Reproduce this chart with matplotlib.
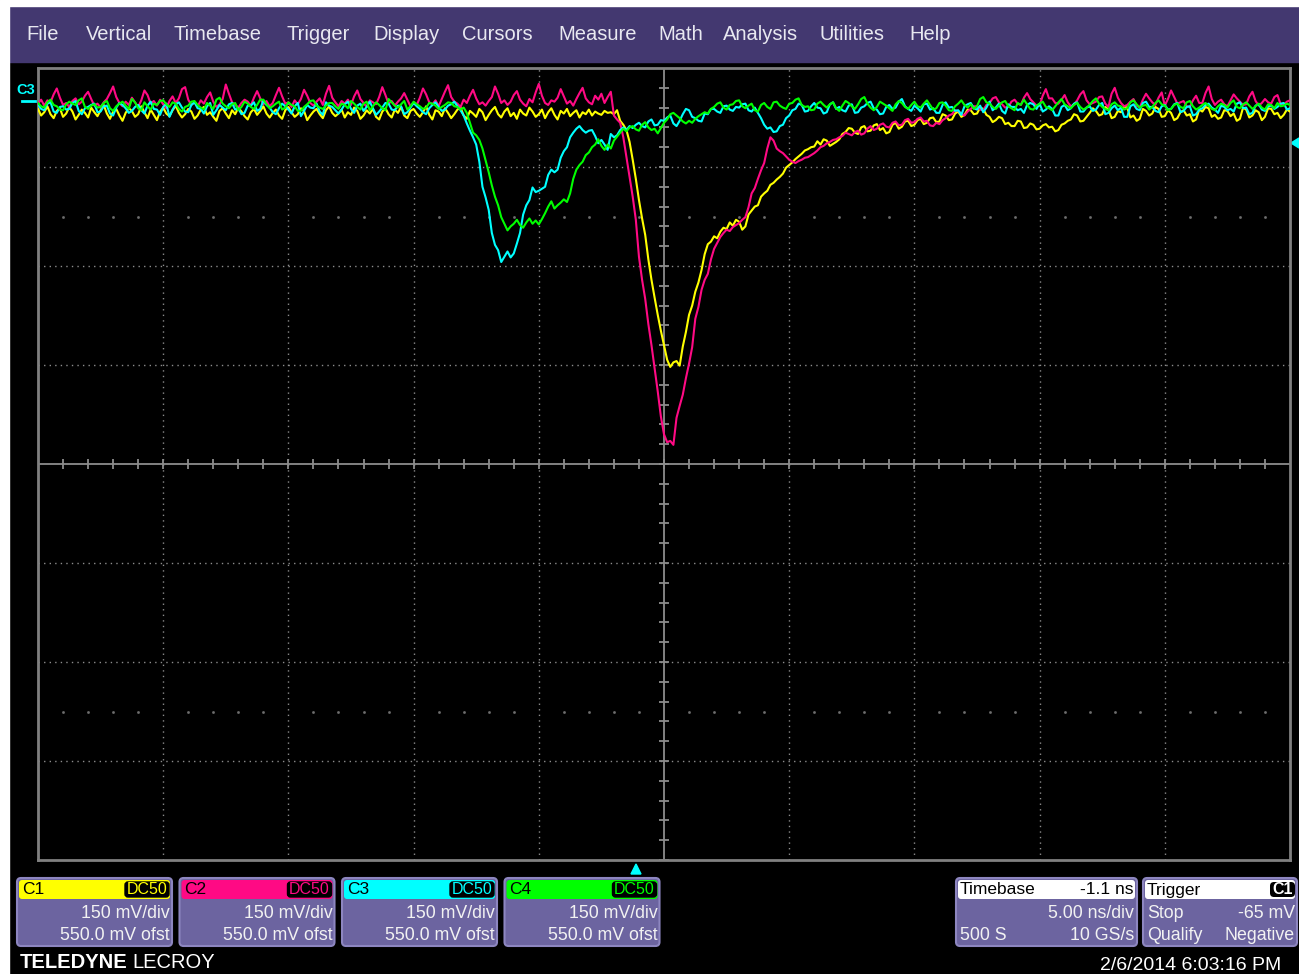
import numpy as np
import matplotlib.pyplot as plt
from matplotlib.patches import FancyBboxPatch, Rectangle, Polygon

plt.rcParams['font.family'] = ['Liberation Sans', 'DejaVu Sans']

# acquisition: 5 ns/div, trigger delay -1.1 ns, one point kept every 0.125 ns
T_START = -23.9
T_STEP = 0.125
DELAY = 1.1
NS_DIV = 5.0
MV_DIV = 150.0
OFFSET_MV = 550.0

# C1 (yellow) in mV
c1_mv = [
    -12, -22, -17, -8, -20, -26, -15, -11, -24, -19, -9, -16, -28, -21, -13, -18, -25, -10, -17, -23,
    -14, -6, -19, -27, -16, -12, -22, -30, -18, -11, -15, -24, -20, -8, -17, -26, -13, -21, -29, -16,
    -10, -19, -23, -14, -7, -18, -25, -20, -12, -16, -27, -22, -13, -9, -21, -17, -24, -30, -15, -11,
    -19, -26, -14, -20, -10, -16, -23, -28, -17, -12, -21, -15, -8, -19, -25, -18, -13, -22, -27, -14,
    -9, -17, -24, -20, -11, -15, -29, -22, -16, -12, -20, -26, -14, -8, -18, -23, -19, -13, -25, -17,
    -21, -10, -15, -27, -22, -14, -19, -12, -24, -28, -16, -11, -20, -25, -13, -18, -9, -22, -26, -15,
    -12, -19, -24, -17, -8, -21, -28, -14, -16, -23, -11, -18, -26, -20, -13, -10, -22, -27, -15, -19,
    -24, -12, -17, -29, -21, -14, -9, -20, -25, -16, -11, -23, -18, -27, -13, -19, -22, -10, -16, -24,
    -20, -13, -26, -17, -11, -21, -28, -15, -19, -12, -23, -18, -14, -25, -17, -20, -13, -22, -16, -19,
    -21, -15, -18, -17,
    -20, -14, -30, -36, -44, -62, -89, -118, -150, -178,
    -203, -240, -271, -298, -324, -348, -370, -392, -403, -396,
    -394, -401, -372, -350, -324, -310, -289, -275, -256, -232,
    -217, -213, -205, -208, -198, -192, -194, -184, -189, -180,
    -183, -195, -190, -172, -166, -160, -158, -145, -140, -136,
    -127, -124, -119, -115, -110, -101, -97, -93, -88, -84,
    -80, -75, -73, -70, -69, -61, -66, -58, -60, -68,
    -65, -62, -58, -50, -47, -41,
    -42, -48, -50, -40, -38, -46, -45, -37, -35, -44, -41, -49, -47, -36, -33, -42, -39, -31, -30, -38,
    -36, -29, -27, -35, -33, -26, -25, -32, -31, -20, -22, -29, -28, -19, -16, -24, -21, -13, -14, -20,
    -19, -10, -12, -21, -24, -32, -29, -24, -26, -35, -33, -38, -38, -30, -31, -41, -40, -34, -36, -43,
    -42, -37, -35, -40, -39, -46, -44, -36, -34, -30, -28, -20, -22, -31, -30, -24, -18, -11, -15, -22,
    -20, -9, -13, -26, -24, -15, -17, -8, -10, -25, -22, -30, -27, -12, -15, -22, -19, -9, -12, -24,
    -23, -14, -18, -29, -26, -17, -14, -22, -20, -31, -28, -13, -16, -9, -11, -24, -21, -27, -25, -14,
    -15, -23, -19, -30, -27, -10, -13, -25, -22, -14, -17, -29, -24, -11, -12, -20, -18, -26, -21, -13, -16,
]

# C2 (magenta) in mV
c2_mv = [
    -4, 2, -7, 1, -2, 10, 19, 5, -6, -3, -9, 0, 4, -5, -1, 8, 14, 3, -7, -4,
    -10, -2, 3, 12, 22, 6, -3, -8, -1, -6, 5, -2, -9, 1, 16, 9, -4, 0, -7, 2,
    -5, -11, 0, 7, -3, 4, 18, 21, 2, -6, -2, -8, 1, -4, 6, 13, -1, -9, -5, 3,
    25, 11, -2, -6, -10, -3, 2, -1, -7, 5, 15, 4, -5, 0, -8, -3, 9, 20, 7, -4,
    -2, -9, 1, -5, 3, 17, 8, -3, -7, -1, 4, -6, 11, 23, 5, -2, -8, 0, -4, 2,
    -6, 7, 16, 3, -3, -9, 1, -2, -5, 6, 21, 9, -4, 0, -7, -1, 4, 12, 2, -8,
    -3, -6, 5, 19, 10, -2, -5, 1, -8, 3, 14, 24, 6, -1, -4, -9, 2, -3, 8, 17,
    4, -5, -2, -7, 0, 6, 22, 11, -3, 1, -6, -1, 9, 15, 2, -4, -8, 3, -2, 13,
    26, 8, -3, -6, 1, -1, 5, 18, 7, -4, 0, -7, 3, 12, 20, 4, -2, -5, 8, 2,
    11, -3, 6, 14,
    -22, -28, -33, -55, -85, -115, -145, -180, -236, -271,
    -300, -338, -370, -405, -440, -478, -505, -517, -515, -521,
    -480, -462, -445, -420, -398, -373, -330, -312, -286, -271,
    -262, -240, -224, -215, -206, -200, -195, -197, -191, -188,
    -185, -180, -176, -161, -140, -132, -118, -105, -94, -72,
    -55, -60, -72, -76, -79, -84, -89, -92, -94, -91,
    -89, -86, -85, -82, -79, -75, -70, -68, -64, -62,
    -59, -58, -55, -53, -48, -50,
    -52, -47, -45, -51, -49, -42, -38, -44, -42, -36, -34, -39, -40, -33, -31, -37, -36, -29, -27, -33,
    -32, -27, -25, -31, -30, -37, -38, -33, -35, -29, -26, -22, -20, -14, -15, -19, -22, -16, -12, -8,
    -8, -13, -14, -6, -3, 4, 6, -2, -5, -10, -9, -1, 2, -4, -6, 5, 12, 3, -2, -7,
    -7, 8, 18, 4, 4, -3, -4, 2, 9, -2, -8, -5, 1, 10, 15, 1, -5, -3, -1, 6,
    7, -4, -9, 11, 20, 5, -3, -8, -6, -1, 3, -7, -10, 2, 11, 4, -2, -6, 5, 13,
    -7, 3, 16, 6, -4, -2, 0, -8, -9, 1, 8, -3, -3, 12, 22, 3, -6, -1, 2, -5,
    -8, 1, 10, 4, -1, -6, -5, 7, 14, 0, -7, -3, 3, -2, -4, 6, 9, -5, -6, -1, 1,
]

# C3 (cyan) in mV
c3_mv = [
    -5, -12, -14, -4, -2, -16, -18, -9, -8, -13, -12, -3, 0, -15, -20, -11, -9, -6, -4, -17,
    -16, -8, -7, -19, -22, -10, -3, -6, -11, -18, -15, -9, -6, -14, -19, -7, -1, -12, -13, -21,
    -9, -4, -24, -13, -5, -2, -10, -16, -17, -6, -2, -11, -12, -19, -8, -3, -21, -14, -6, -10,
    -14, -5, -3, -13, -11, -20, -18, -7, -7, -2, -15, -12, 1, -6, -10, -17, -20, -11, -4, -8,
    -13, -19, -8, -3, -23, -15, -6, -10, -11, -4, -16, -21, -2, -7, -9, -14, -19, -13, -5, -1,
    -12, -18, -7, -4, -15, -9, -1, -11, -21, -16, -10, -3, -4, -13, -14, -7, -8, -20, -17, -10,
    -3, -8, -12, -17, -20, -11, -6, -2, -9, -15, -13, -7, -5, -1,
    -8, -14, -22, -34, -45, -55, -66, -92, -130, -146,
    -165, -200, -218, -226, -244, -236, -228, -237, -231, -216,
    -200, -172, -158, -150, -131, -138, -136, -133, -130, -112,
    -104, -108, -104, -86, -76, -70, -55, -48, -42, -38,
    -44, -48, -45, -44, -53, -64, -59, -66, -74, -50,
    -55, -52, -44, -40, -44, -38, -41, -36,
    -33, -38, -40, -31, -28, -37, -36, -29, -30, -25, -22, -34, -38, -30, -20, -12, -14, -24, -26, -30,
    -31, -19, -20, -12, -12, -16, -18, -8, -7, -13, -15, -9, -10, -5, -4, -14, -16, -10, -18, -26,
    -36, -42, -40, -47, -46, -38, -36, -26, -22, -14,
    -12, -4, -6, -16, -15, -8, -3, -10, -11, -19, -17, -5, -2, -12, -9, -14, -16, -7, -5, -18,
    -17, -10, -8, -3, -1, -11, -13, -20, -19, -9, -6, -12, -10, -1, 3, -8, -12, -15, -7, -11,
    -16, -5, -4, -13, -11, -18, -18, -6, -2, -10, -9, -15, -14, -21, -8, -5, -3, -11, -13, -7,
    -17, -10, -1, -14, -10, -4, -15, -19, -5, -9, -9, -14, -12, -18, -6, -3, -5, -12, -4, -16,
    -13, -8, -12, -22, -22, -9, -6, -14, -11, -4, -2, -16, -16, -10, -8, -15, -13, -6, -3, -20,
    -18, -11, -7, -14, -10, -24, -24, -8, -5, -12, -14, -3, -1, -9, -9, -15, -17, -8, -6, -13,
    -12, -5, -3, -17, -15, -9, -8, -22, -20, -13, -11, -6, -4, -10, -13, -18, -7, -9, -14, -12,
    -16, -4, -2, -11, -10, -20, -18, -7, -5, -13, -15, -8, -7, -12, -9, -4, -3, -13, -11,
]

# C4 (green) in mV
c4_mv = [
    -3, -8, -10, -2, 2, -6, -8, -13, -14, -5, -1, -4, -6, 1, 4, -9, -12, -7, -5, -10,
    -9, -3, 0, -11, -15, -8, -4, -1, -7, -12, 3, -2, -11, -14, -2, -8, -13, -4, -6, 0,
    1, -5, -9, -2, -4, -12, -16, -9, -7, -1, 0, -6, -10, -13, -3, -7, -12, 2, 5, -4,
    -8, -11, -5, -3, -14, -9, -1, -4, -9, -12, -6, 2, 2, -5, -11, -8, -4, -1, -13, -10,
    -2, -6, -8, -15, -15, -9, -5, 0, 1, -7, -10, -12, -7, -3, -3, -8, -12, -4, -6, -11,
    0, -4, -9, -13, -4, -1, -14, -8, -2, -6, -11, -14, 3, -2, -7, -10, -5, 0, -13, -8,
    -1, -5, -8, -12, -10, -3, -4, -7, -12, -9, -6, -2, -3, -8, -9, -13,
    -10, -18, -33, -48, -52, -59, -72, -90, -108, -128,
    -145, -158, -176, -186, -196, -190, -186, -180, -188, -192,
    -184, -178, -186, -181, -187, -179, -170, -160, -152, -163,
    -158, -154, -149, -153, -140, -118, -104, -97, -92, -82,
    -78, -70, -66, -58, -68, -74, -66, -72, -60, -54,
    -48, -42, -46, -40, -38, -43, -45, -36, -32, -40,
    -44, -42, -49, -41, -33, -28, -20, -18, -22, -26,
    -31, -34, -30, -33, -27, -23, -20, -17, -19, -12,
    -9, -4, -2, -10, -13, -6, -5, 0, 1, -8, -11, -7, -4, -14, -16, -6, -3, -9, -12, -2,
    -1, -7, -10, -12, -4, -3, 2, 4, -6, -9, -8, -14, -13, -4, -1, -6, -10, -5, -2, -11,
    -15, -7, 0, -3, -8, -12, -5, 3, 6, -4, -10, -14, -9, -1, -4, -7, -11, -15, -5, 0,
    -3, -9, -12, -6, -1, -8, -10, -4, 1, -6, -13, -11, -3, -2, -7, -14, -15, -8, -4, 1,
    -6, -10, -5, -12, -8, 3, 6, -2, -4, -9, -12, -7, -2, 0, -8, -11, -14, -3, -6, 2,
    -5, -12, -13, -7, -4, -1, -9, -11, -14, -8, -2, 3, -5, -8, -11, -6, -3, -9, -13, -10,
    -6, 0, 4, -4, -9, -12, -14, -5, -2, -7, -8, -13, -11, -2, 1, -5, -10, -7, -6, -13,
    -9, -3, 1, -5, -7, -14, -12, -6, -4, -9, -11, -2, 0, -8, -13, -10, -6, -3, -7, -12,
    -14, -8, -4, -6, -10, -3, 1, -9, -11, -5, -2, -7, -12, -8, -4, -10, -13, -5, -6, -11,
    -3, -8, -7, -4, -6,
]

channels = ['C1', 'C2', 'C3', 'C4']
channel_data = [c1_mv, c2_mv, c3_mv, c4_mv]
channel_colors = ['#ffff00', '#ff0a84', '#00ffff', '#00ff00']
volts_div = ['150 mV/div'] * 4
offsets = ['550.0 mV ofst'] * 4

menu_items = ['File', 'Vertical', 'Timebase', 'Trigger', 'Display', 'Cursors',
              'Measure', 'Math', 'Analysis', 'Utilities', 'Help']

W, H = 1299, 974
GX0, GX1, GY0, GY1 = 38, 1290, 68, 860

fig = plt.figure(figsize=(W / 100, H / 100), dpi=100, facecolor='black')

# screen furniture drawn in pixel coordinates
ui = fig.add_axes([0, 0, 1, 1])
ui.set_xlim(0, W)
ui.set_ylim(H, 0)
ui.axis('off')
ui.set_facecolor('black')

ui.add_patch(Rectangle((0, 0), W, 6, color='white', zorder=5))
ui.add_patch(Rectangle((0, 0), 9, H, color='white', zorder=5))
ui.add_patch(Rectangle((9, 6), W - 9, 56, color='#433870', zorder=1))

menu_x = [26, 86, 174, 287, 373, 462, 558, 658, 723, 820, 909]
for name, x in zip(menu_items, menu_x):
    ui.text(x, 35, name, color='#e8e8f0', fontsize=14.5, va='center', ha='left')

# channel descriptor boxes
box_w = 155
for k, (name, col) in enumerate(zip(channels, channel_colors)):
    x0 = 17 + 162.5 * k
    ui.add_patch(FancyBboxPatch((x0, 878), box_w, 68,
                                boxstyle='round,pad=0,rounding_size=4',
                                facecolor='#6c64a0', edgecolor='#8d86c0', lw=1.5))
    ui.add_patch(FancyBboxPatch((x0 + 2, 880), box_w - 4, 19,
                                boxstyle='round,pad=0,rounding_size=3',
                                facecolor=col, edgecolor='none'))
    ui.text(x0 + 5, 890, name, color='black', fontsize=12.5, va='center')
    ui.add_patch(FancyBboxPatch((x0 + box_w - 47, 882), 44, 15,
                                boxstyle='round,pad=0,rounding_size=3',
                                facecolor='black', edgecolor='black', lw=1))
    ui.text(x0 + box_w - 25, 890, 'DC50', color=col, fontsize=11.5,
            va='center', ha='center')
    ui.text(x0 + box_w - 2, 914, volts_div[k], color='#f2f2f2', fontsize=12.8,
            va='center', ha='right')
    ui.text(x0 + box_w - 2, 935, offsets[k], color='#f2f2f2', fontsize=12.8,
            va='center', ha='right')

# timebase and trigger boxes
for x0, w in [(956, 181), (1143, 154)]:
    ui.add_patch(FancyBboxPatch((x0, 878), w, 68,
                                boxstyle='round,pad=0,rounding_size=4',
                                facecolor='#6c64a0', edgecolor='#8d86c0', lw=1.5))
    ui.add_patch(FancyBboxPatch((x0 + 2, 880), w - 4, 19,
                                boxstyle='round,pad=0,rounding_size=3',
                                facecolor='white', edgecolor='none'))

ui.text(960, 890, 'Timebase', color='black', fontsize=12.5, va='center')
ui.text(1134, 890, '-1.1 ns', color='black', fontsize=12.5, va='center', ha='right')
ui.text(1134, 914, '5.00 ns/div', color='#f2f2f2', fontsize=12.8, va='center', ha='right')
ui.text(960, 935, '500 S', color='#f2f2f2', fontsize=12.8, va='center')
ui.text(1134, 935, '10 GS/s', color='#f2f2f2', fontsize=12.8, va='center', ha='right')

ui.text(1147, 890, 'Trigger', color='black', fontsize=12.5, va='center')
ui.add_patch(FancyBboxPatch((1270, 882), 25, 15,
                            boxstyle='round,pad=0,rounding_size=4',
                            facecolor='black', edgecolor='none'))
ui.text(1282.5, 890, 'C1', color='white', fontsize=11.5, va='center', ha='center',
        fontweight='bold')
ui.text(1147, 914, 'Stop', color='#f2f2f2', fontsize=12.8, va='center')
ui.text(1295, 914, '-65 mV', color='#f2f2f2', fontsize=12.8, va='center', ha='right')
ui.text(1147, 935, 'Qualify', color='#f2f2f2', fontsize=12.8, va='center')
ui.text(1295, 935, 'Negative', color='#f2f2f2', fontsize=12.8, va='center', ha='right')

logo = ui.text(20, 962, 'TELEDYNE', color='white', fontsize=14.5, fontweight='bold',
               va='center')
ui.annotate('LECROY', xy=(1, 0.5), xycoords=logo, xytext=(3, 0),
            textcoords='offset points', color='white', fontsize=14.5, va='center')
ui.text(1100, 965, '2/6/2014 6:03:16 PM', color='white', fontsize=14, va='center')

# ground marker on the left, trigger level and trigger time markers
ui.text(16, 90, 'C3', color='#00ffff', fontsize=10.5, fontweight='bold', va='center')
ui.plot([22, 35], [101, 101], color='#00ffff', lw=2)
ui.add_patch(Polygon([[1291, 143], [1299, 138], [1299, 148]], closed=True, color='#00ffff'))
ui.add_patch(Polygon([[636, 864], [631, 874], [641, 874]], closed=True, color='#00ffff'))

# graticule
ax = fig.add_axes([GX0 / W, 1 - GY1 / H, (GX1 - GX0) / W, (GY1 - GY0) / H])
ax.set_facecolor('black')
x_lo = DELAY - 5 * NS_DIV
x_hi = DELAY + 5 * NS_DIV
y_mid = -OFFSET_MV
ax.set_xlim(x_lo, x_hi)
ax.set_ylim(y_mid - 4 * MV_DIV, y_mid + 4 * MV_DIV)
ax.set_xticks([])
ax.set_yticks([])
for s in ax.spines.values():
    s.set_color('#808080')
    s.set_linewidth(2)

grid_kw = dict(color='#8c8c8c', lw=1.0, linestyle=(0, (1, 3)), zorder=1)
for k in range(-4, 5):
    if k != 0:
        ax.axvline(DELAY + k * NS_DIV, **grid_kw)
for k in range(-3, 4):
    if k != 0:
        ax.axhline(y_mid + k * MV_DIV, **grid_kw)

ax.axvline(DELAY, color='#8c8c8c', lw=1.3, zorder=1)
ax.axhline(y_mid, color='#8c8c8c', lw=1.3, zorder=1)

# minor ticks on the centre cross
tx = np.arange(-25, 26) * (NS_DIV / 5) + DELAY
tx = tx[(tx > x_lo) & (tx < x_hi)]
hx = 5 * NS_DIV / 125.2
ax.vlines(tx, y_mid - 7.5, y_mid + 7.5, color='#8c8c8c', lw=1.3, zorder=1)
ty = np.arange(-20, 21) * (MV_DIV / 5) + y_mid
ax.hlines(ty, DELAY - hx, DELAY + hx, color='#8c8c8c', lw=1.3, zorder=1)

# rows of dots at +-2.5 div
dx = [v for v in tx if abs((v - DELAY) / NS_DIV - round((v - DELAY) / NS_DIV)) > 1e-6]
for yy in (y_mid + 2.5 * MV_DIV, y_mid - 2.5 * MV_DIV):
    ax.plot(dx, [yy] * len(dx), ls='none', marker='s', ms=0.9, color='#6e6e6e', zorder=1)

for vals, col in zip(channel_data, channel_colors):
    t = T_START + T_STEP * np.arange(len(vals))
    ax.plot(t, vals, color=col, lw=1.5, zorder=3)

fig.savefig('out.png', dpi=100, facecolor='black')
